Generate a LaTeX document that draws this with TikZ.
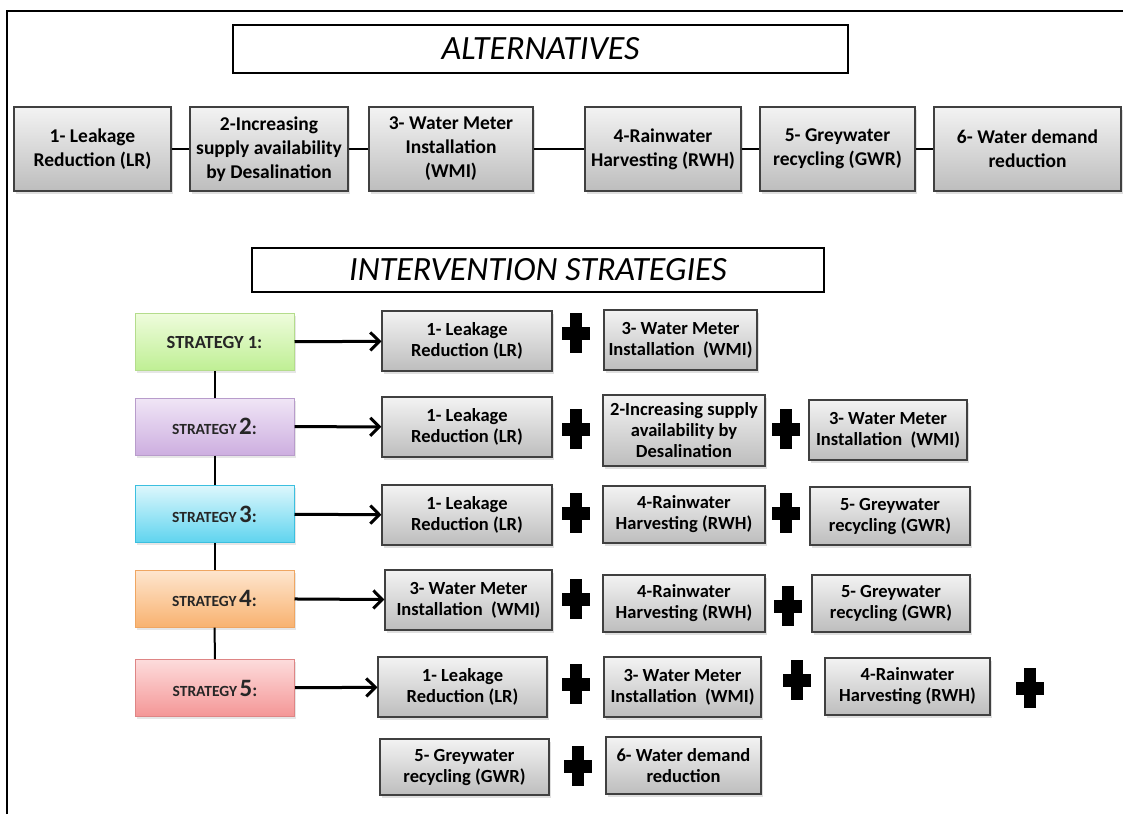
\documentclass[tikz,border=0pt]{standalone}
\usepackage{fontspec}
\setmainfont{Carlito}
\usetikzlibrary{arrows.meta,shadows}

\definecolor{boxtop}{HTML}{F3F3F3}
\definecolor{boxbot}{HTML}{BDBDBD}
\definecolor{greentop}{HTML}{EEFCDC}
\definecolor{greenbot}{HTML}{BFEF94}
\definecolor{greenline}{HTML}{B4DC8C}
\definecolor{purptop}{HTML}{F0E6F6}
\definecolor{purpbot}{HTML}{CDAEE0}
\definecolor{purpline}{HTML}{B89CCB}
\definecolor{cyantop}{HTML}{DDF7FC}
\definecolor{cyanbot}{HTML}{5FD4EF}
\definecolor{cyanline}{HTML}{3CBFDF}
\definecolor{orangetop}{HTML}{FEE6CF}
\definecolor{orangebot}{HTML}{F8B270}
\definecolor{orangeline}{HTML}{EFA662}
\definecolor{pinktop}{HTML}{FDDCDC}
\definecolor{pinkbot}{HTML}{F49696}
\definecolor{pinkline}{HTML}{DE8585}

\newcommand{\stratlab}[1]{{\fontsize{15.5}{18}\selectfont STRATEGY\,}{\fontsize{25}{28}\selectfont #1}{\fontsize{18}{20}\selectfont :}}

\tikzset{
  title/.style={draw, line width=2pt, fill=white, inner sep=0pt,
    font=\itshape\fontsize{34}{38}\selectfont},
  altbox/.style={draw=black!75, line width=1.2pt, top color=boxtop, bottom color=boxbot,
    drop shadow={shadow xshift=1.5pt, shadow yshift=-2.5pt, opacity=0.25},
    align=center, inner sep=0pt, font=\bfseries\fontsize{19.5}{24}\selectfont},
  optbox/.style={altbox, font=\bfseries\fontsize{18.5}{21}\selectfont},
  stratbox/.style={line width=1pt, align=center, inner sep=0pt,
    minimum width=159, minimum height=57, text=black!85,
    drop shadow={shadow xshift=1.5pt, shadow yshift=-2.5pt, opacity=0.2},
    font=\bfseries},
  sgreen/.style={draw=greenline, top color=greentop, bottom color=greenbot},
  spurple/.style={draw=purpline, top color=purptop, bottom color=purpbot},
  scyan/.style={draw=cyanline, top color=cyantop, bottom color=cyanbot},
  sorange/.style={draw=orangeline, top color=orangetop, bottom color=orangebot},
  spink/.style={draw=pinkline, top color=pinktop, bottom color=pinkbot},
  conn/.style={line width=2pt},
  arr/.style={line width=3pt, -{Straight Barb[length=9pt,width=18pt]}},
  plus/.style={minimum width=28, minimum height=40, inner sep=0pt,
    path picture={
      \fill[black] ([xshift=-6pt]path picture bounding box.north)
        rectangle ([xshift=6pt]path picture bounding box.south);
      \fill[black] ([yshift=-6.5pt]path picture bounding box.west)
        rectangle ([yshift=6.5pt]path picture bounding box.east);}}
}

\begin{document}
\begin{tikzpicture}[x=1pt, y=-1pt]
  \useasboundingbox (0,0) rectangle (1123,814);
  % frame
  \draw[line width=2pt] (7,814) -- (7,11) -- (1123,11);

  % alternatives
  \node[title, minimum width=615, minimum height=48] (alt) at (540.5,49) {ALTERNATIVES};
  \node[altbox, minimum width=157, minimum height=84] (a1) at (92.5,149) {1- Leakage\\Reduction (LR)};
  \node[altbox, minimum width=158, minimum height=84] (a2) at (269,149) {2-Increasing\\supply availability\\by Desalination};
  \node[altbox, minimum width=164, minimum height=84] (a3) at (451,149) {3- Water Meter\\Installation\\(WMI)};
  \node[altbox, minimum width=156, minimum height=84] (a4) at (663,149) {4-Rainwater\\Harvesting (RWH)};
  \node[altbox, minimum width=155, minimum height=84] (a5) at (837.5,149) {5- Greywater\\recycling (GWR)};
  \node[altbox, minimum width=187, minimum height=84] (a6) at (1027.5,149) {6- Water demand\\reduction};
  \draw[conn] (a1) -- (a2);
  \draw[conn] (a2) -- (a3);
  \draw[conn] (a3) -- (a4);
  \draw[conn] (a4) -- (a5);
  \draw[conn] (a5) -- (a6);

  % strategies
  \node[title, minimum width=572, minimum height=44] (strat) at (538,270) {INTERVENTION STRATEGIES};
  \node[stratbox, sgreen] (s1) at (214.5,342) {\fontsize{18.5}{21}\selectfont STRATEGY 1:};
  \node[stratbox, spurple] (s2) at (214.5,426.5) {\stratlab{2}};
  \node[stratbox, scyan] (s3) at (214.5,514) {\stratlab{3}};
  \node[stratbox, sorange] (s4) at (214.5,598.5) {\stratlab{4}};
  \node[stratbox, spink] (s5) at (215,688) {\stratlab{5}};
  \draw[conn] (s1) -- (s2);
  \draw[conn] (s2) -- (s3);
  \draw[conn] (s3) -- (s4);
  \draw[conn] (s4) -- (s5);

  % strategy 1
  \node[optbox, minimum width=170, minimum height=60] (r1a) at (467,341) {1- Leakage\\Reduction (LR)};
  \node[plus] (p1a) at (576,333) {};
  \node[optbox, minimum width=153, minimum height=60] (r1b) at (680.5,340) {3- Water Meter\\Installation~~(WMI)};

  % strategy 2
  \node[optbox, minimum width=170, minimum height=60] (r2a) at (467,427) {1- Leakage\\Reduction (LR)};
  \node[plus] (p2a) at (576,429) {};
  \node[optbox, minimum width=162, minimum height=71] (r2b) at (684,430.5) {2-Increasing supply\\availability by\\Desalination};
  \node[plus] (p2b) at (786,429) {};
  \node[optbox, minimum width=158, minimum height=60] (r2c) at (888,430) {3- Water Meter\\Installation~~(WMI)};

  % strategy 3
  \node[optbox, minimum width=170, minimum height=60] (r3a) at (467,515) {1- Leakage\\Reduction (LR)};
  \node[plus] (p3a) at (576,513) {};
  \node[optbox, minimum width=162, minimum height=57] (r3b) at (684,514.5) {4-Rainwater\\Harvesting (RWH)};
  \node[plus] (p3b) at (786,513) {};
  \node[optbox, minimum width=160, minimum height=58] (r3c) at (890,516) {5- Greywater\\recycling (GWR)};

  % strategy 4
  \node[optbox, minimum width=167, minimum height=60] (r4a) at (468.5,600) {3- Water Meter\\Installation~~(WMI)};
  \node[plus] (p4a) at (576,599) {};
  \node[optbox, minimum width=162, minimum height=57] (r4b) at (684,603.5) {4-Rainwater\\Harvesting (RWH)};
  \node[plus] (p4b) at (788,606) {};
  \node[optbox, minimum width=158, minimum height=57] (r4c) at (891,603.5) {5- Greywater\\recycling (GWR)};

  % strategy 5
  \node[optbox, minimum width=169, minimum height=60] (r5a) at (462.5,687) {1- Leakage\\Reduction (LR)};
  \node[plus] (p5a) at (576,684) {};
  \node[optbox, minimum width=157, minimum height=60] (r5b) at (682.5,687) {3- Water Meter\\Installation~~(WMI)};
  \node[plus] (p5b) at (797,680) {};
  \node[optbox, minimum width=165, minimum height=57] (r5c) at (907.5,686.5) {4-Rainwater\\Harvesting (RWH)};
  \node[plus] (p5c) at (1030,688) {};
  \node[optbox, minimum width=169, minimum height=56] (r6a) at (464.5,767) {5- Greywater\\recycling (GWR)};
  \node[plus] (p6a) at (578,766) {};
  \node[optbox, minimum width=155, minimum height=57] (r6b) at (683.5,765.5) {6- Water demand\\reduction};

  % arrows
  \draw[arr] (s1) -- (r1a);
  \draw[arr] (s2) -- (r2a);
  \draw[arr] (s3) -- (r3a);
  \draw[arr] (s4) -- (r4a);
  \draw[arr] (s5) -- (r5a);
\end{tikzpicture}
\end{document}
